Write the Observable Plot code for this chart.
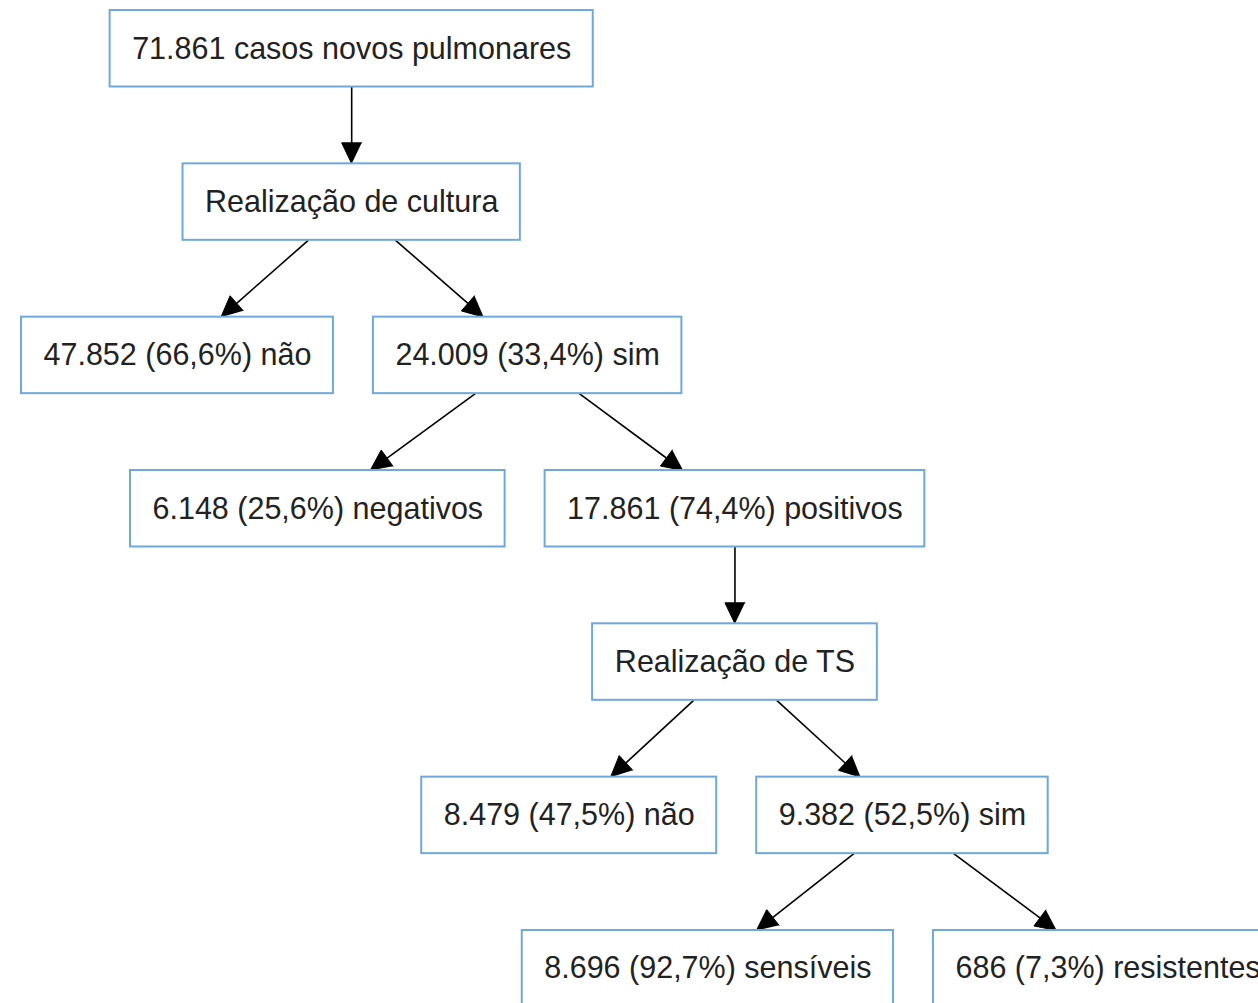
<!DOCTYPE html>
<html><head><meta charset="utf-8">
<script src="https://cdn.jsdelivr.net/npm/d3@7"></script>
<script src="https://cdn.jsdelivr.net/npm/@observablehq/plot@0.6"></script>
<style>html,body{margin:0;padding:0;background:#fff}</style>
</head><body><div id="chart"></div>
<script>
// ---- data ----
const labels = [
  "71.861 casos novos pulmonares",
  "Realização de cultura",
  "47.852 (66,6%) não",
  "24.009 (33,4%) sim",
  "6.148 (25,6%) negativos",
  "17.861 (74,4%) positivos",
  "Realização de TS",
  "8.479 (47,5%) não",
  "9.382 (52,5%) sim",
  "8.696 (92,7%) sensíveis",
  "686 (7,3%) resistentes"
];
const parents = [null, 0, 1, 1, 3, 3, 5, 6, 6, 8, 8];

// ---- layout (computed) ----
const W = 1258, H = 1003;
const FONT = "Arial, 'Liberation Sans', sans-serif";
const FS = 30.5;
const PAD = 22, GAP = 40, BOX_H = 76.5, ROW = 153.33, TOP = 10, LEFT = 21;
const HEAD_L = 21, HEAD_W = 10;

const ctx = document.createElement("canvas").getContext("2d");
ctx.font = `${FS}px ${FONT}`;

const nodes = labels.map((label, i) => ({
  i, label, parent: parents[i], children: [],
  width: ctx.measureText(label).width + 2 * PAD
}));
nodes.forEach(n => { if (n.parent != null) nodes[n.parent].children.push(n); });
nodes.forEach(n => { n.rank = n.parent == null ? 0 : nodes[n.parent].rank + 1; });
nodes[0].cx = 0;
(function place(n) {
  if (!n.children.length) return;
  const span = d3.sum(n.children, c => c.width) + GAP * (n.children.length - 1);
  let x = n.cx - span / 2;
  for (const c of n.children) { c.cx = x + c.width / 2; x += c.width + GAP; place(c); }
})(nodes[0]);
const shift = LEFT - d3.min(nodes, n => n.cx - n.width / 2);
nodes.forEach(n => {
  n.cx += shift;
  n.x1 = n.cx - n.width / 2; n.x2 = n.cx + n.width / 2;
  n.y1 = TOP + n.rank * ROW; n.y2 = n.y1 + BOX_H; n.cy = (n.y1 + n.y2) / 2;
});

// edges: centre-to-centre lines clipped at the box borders
const edges = nodes.filter(n => n.parent != null).map(c => {
  const p = nodes[c.parent];
  const t = (BOX_H / 2) / (c.cy - p.cy);
  const sx = p.cx + t * (c.cx - p.cx), sy = p.cy + t * (c.cy - p.cy);
  const ex = c.cx - t * (c.cx - p.cx), ey = c.cy - t * (c.cy - p.cy);
  const len = Math.hypot(ex - sx, ey - sy);
  const ux = (ex - sx) / len, uy = (ey - sy) / len;
  const bx = ex - ux * HEAD_L, by = ey - uy * HEAD_L;
  return {id: c.i, sx, sy, ex, ey, bx, by, ux, uy};
});
const heads = edges.flatMap(e => [
  {id: e.id, x: e.ex, y: e.ey},
  {id: e.id, x: e.bx - e.uy * HEAD_W, y: e.by + e.ux * HEAD_W},
  {id: e.id, x: e.bx + e.uy * HEAD_W, y: e.by - e.ux * HEAD_W}
]);

const chart = Plot.plot({
  width: W, height: H,
  margin: 0,
  x: {domain: [0, W], range: [0, W], axis: null},
  y: {domain: [0, H], range: [0, H], axis: null},
  style: {background: "#fff", fontFamily: FONT},
  marks: [
    Plot.link(edges, {x1: "sx", y1: "sy", x2: "bx", y2: "by", stroke: "#000", strokeWidth: 1.6}),
    Plot.line(heads, {x: "x", y: "y", z: "id", fill: "#000", stroke: "#000", strokeWidth: 1}),
    Plot.rect(nodes, {x1: "x1", x2: "x2", y1: "y1", y2: "y2", fill: "#fff", stroke: "#6fa8dc", strokeWidth: 2}),
    Plot.text(nodes, {x: "cx", y: "cy", text: "label", fontSize: FS, fill: "#222", fontFamily: FONT})
  ]
});
document.getElementById("chart").appendChild(chart);
</script>
</body></html>
